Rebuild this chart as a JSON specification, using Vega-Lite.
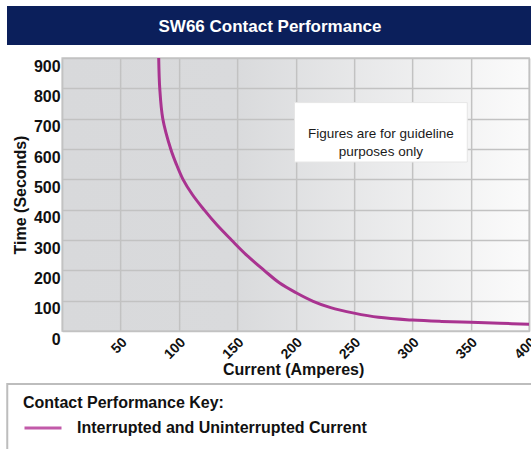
{
  "$schema": "https://vega.github.io/schema/vega-lite/v6.json",
  "background": "white",
  "padding": {"left": 2, "top": 6, "right": 0, "bottom": 0},
  "spacing": 12,
  "config": {
    "font": "Liberation Sans",
    "axis": {"labelOverlap": false, "labelFlush": false}
  },
  "vconcat": [
    {
      "width": 526,
      "height": 39,
      "view": {"fill": "#0b1f5b", "stroke": null},
      "data": {"values": [{"title": "SW66 Contact Performance"}]},
      "mark": {"type": "text", "color": "white", "fontSize": 17, "fontWeight": "bold", "dy": 1},
      "encoding": {"text": {"field": "title", "type": "nominal"}}
    },
    {
      "spacing": 0,
      "center": true,
      "vconcat": [
        {
          "width": 467,
          "height": 273,
          "view": {
            "stroke": "#c6c6c6",
            "strokeWidth": 1.5,
            "fill": {
              "gradient": "linear",
              "x1": 0, "y1": 0, "x2": 1, "y2": 0,
              "stops": [
                {"offset": 0, "color": "#d8d9db"},
                {"offset": 0.37, "color": "#d9dadc"},
                {"offset": 1, "color": "#fbfbfb"}
              ]
            }
          },
          "layer": [
            {
              "data": {"values": [
                {"current": 82.7, "time": 900},
                {"current": 83.6, "time": 800},
                {"current": 86.2, "time": 700},
                {"current": 93, "time": 600},
                {"current": 97.8, "time": 550},
                {"current": 103.5, "time": 500},
                {"current": 111.5, "time": 450},
                {"current": 121.5, "time": 400},
                {"current": 132.5, "time": 350},
                {"current": 145, "time": 300},
                {"current": 158, "time": 250},
                {"current": 173, "time": 200},
                {"current": 186, "time": 159},
                {"current": 200, "time": 127},
                {"current": 215, "time": 98},
                {"current": 230, "time": 77},
                {"current": 250, "time": 59},
                {"current": 271, "time": 45},
                {"current": 300, "time": 36},
                {"current": 325, "time": 31.5},
                {"current": 350, "time": 28.5},
                {"current": 375, "time": 25.5},
                {"current": 400, "time": 22}
              ]},
              "mark": {"type": "line", "color": "#a93390", "strokeWidth": 3, "interpolate": "catmull-rom", "clip": true},
              "encoding": {
                "x": {
                  "field": "current",
                  "type": "quantitative",
                  "scale": {"domain": [0, 400], "nice": false},
                  "axis": {
                    "values": [0, 50, 100, 150, 200, 250, 300, 350, 400],
                    "labelExpr": "datum.value == 0 ? '' : datum.label",
                    "labelAngle": -45,
                    "labelAlign": "right",
                    "labelBaseline": "middle",
                    "labelFontSize": 14,
                    "labelFontWeight": "bold",
                    "labelColor": "#111111",
                    "labelPadding": 9,
                    "labelOffset": 4,
                    "labelFlush": false,
                    "labelOverlap": false,
                    "ticks": false,
                    "tickSize": 0,
                    "domain": false,
                    "grid": true,
                    "gridColor": "#c2c2c2",
                    "gridWidth": 1.5,
                    "title": "Current (Amperes)",
                    "titleFontSize": 16,
                    "titleFontWeight": "bold",
                    "titleColor": "#111111",
                    "titlePadding": 0,
                    "titleX": 231
                  }
                },
                "y": {
                  "field": "time",
                  "type": "quantitative",
                  "scale": {"domain": [0, 900], "nice": false},
                  "axis": {
                    "values": [0, 100, 200, 300, 400, 500, 600, 700, 800, 900],
                    "tickCount": 10,
                    "labelFontSize": 16,
                    "labelFontWeight": "bold",
                    "labelColor": "#111111",
                    "labelPadding": 2,
                    "labelOffset": 8,
                    "labelOverlap": false,
                    "labelFlush": false,
                    "ticks": false,
                    "tickSize": 0,
                    "domain": false,
                    "grid": true,
                    "gridColor": "#c2c2c2",
                    "gridWidth": 1.5,
                    "title": "Time (Seconds)",
                    "titleFontSize": 16,
                    "titleFontWeight": "bold",
                    "titleColor": "#111111",
                    "titlePadding": 4.5
                  }
                }
              }
            },
            {
              "data": {"values": [{"note": ["Figures are for guideline", "purposes only"]}]},
              "mark": {"type": "rect", "fill": "white", "stroke": "#e6e6e6", "strokeWidth": 1},
              "encoding": {
                "x": {"datum": 199, "type": "quantitative"},
                "x2": {"datum": 347},
                "y": {"datum": 557, "type": "quantitative"},
                "y2": {"datum": 753}
              }
            },
            {
              "data": {"values": [{"note": ["Figures are for guideline", "purposes only"]}]},
              "mark": {"type": "text", "fontSize": 13.5, "color": "#1a1a1a", "lineHeight": 18.5, "align": "center", "baseline": "middle"},
              "encoding": {
                "x": {"datum": 273, "type": "quantitative"},
                "y": {"datum": 651, "type": "quantitative"},
                "text": {"field": "note"}
              }
            }
          ]
        },
        {
          "width": 585.5,
          "height": 67,
          "view": {"stroke": "#bdbdbd", "strokeWidth": 2, "fill": null},
          "data": {"values": [{"series": "Interrupted and Uninterrupted Current"}]},
          "mark": {"type": "line"},
          "encoding": {
            "x": {"datum": 0, "type": "quantitative", "axis": null},
            "y": {"datum": 0, "type": "quantitative", "axis": null},
            "color": {
              "field": "series",
              "type": "nominal",
              "scale": {"range": ["#c25aa9"]},
              "legend": {
                "orient": "none",
                "legendX": 16,
                "legendY": 389,
                "padding": 0,
                "title": "Contact Performance Key:",
                "titleFontSize": 16,
                "titleFontWeight": "bold",
                "titleColor": "#111111",
                "titleLimit": 400,
                "titlePadding": -3,
                "labelFontSize": 16,
                "labelFontWeight": "bold",
                "labelColor": "#111111",
                "labelLimit": 500,
                "symbolType": "stroke",
                "symbolSize": 1369,
                "symbolStrokeWidth": 3,
                "labelOffset": 14
              }
            }
          }
        }
      ]
    }
  ]
}
